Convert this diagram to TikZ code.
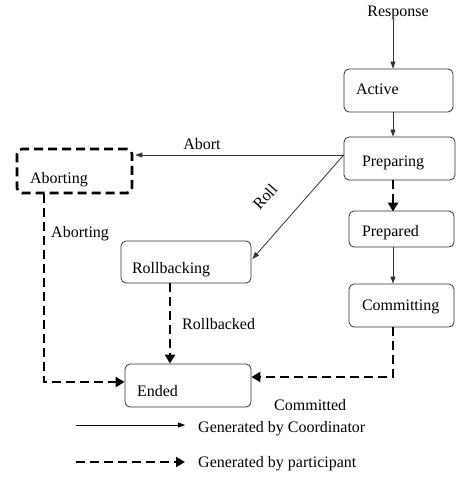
\documentclass[tikz,border=0pt]{standalone}
\usepackage{fontspec}
\setmainfont{Liberation Serif}
\usetikzlibrary{arrows.meta}
\begin{document}
\begin{tikzpicture}[x=1pt,y=-1pt,
  every node/.style={font=\fontsize{16}{19}\selectfont, text=black},
  box/.style={draw=black!80, line width=0.8pt, rounded corners=5pt, inner xsep=0pt, inner ysep=0pt, align=left, text depth=4pt},
  dbox/.style={box, draw=black, line width=2.6pt, dash pattern=on 9pt off 5pt},
  thinarrow/.style={draw=black!80, line width=0.8pt, -{Triangle[length=7pt,width=5pt]}},
  thickarrow/.style={draw=black, line width=2.6pt, dash pattern=on 9pt off 5pt, -{Triangle[length=9pt,width=10pt]}},
  lbl/.style={inner sep=0pt}
]
\useasboundingbox (0,0) rectangle (455,478);
\coordinate (cx) at (393,0);
\coordinate (ay) at (0,155);
\coordinate (ry) at (0,259);
\coordinate (ax) at (44,0);
\coordinate (rx) at (170,0);
\coordinate (ey1) at (0,382);
\coordinate (ey2) at (0,377);

\node[lbl] (resp) at (398,13) {Response};
\node[box, minimum width=109pt, minimum height=43pt, text width=85pt, text height=12pt] (active) at (398.5,90.5) {Active};
\node[box, minimum width=111pt, minimum height=43pt, text width=75pt, text height=21pt] (preparing) at (399.5,158.5) {Preparing};
\node[box, minimum width=105pt, minimum height=36pt, text width=79pt, text height=18pt] (prepared) at (401.5,229) {Prepared};
\node[box, minimum width=105pt, minimum height=43pt, text width=79pt, text height=13pt] (committing) at (401.5,305.5) {Committing};
\node[dbox, minimum width=115pt, minimum height=44pt, text width=89pt, text height=28pt] (aborting) at (74.5,171) {Aborting};
\node[box, minimum width=130pt, minimum height=42pt, text width=108pt, text height=26pt] (rollbacking) at (186,262) {Rollbacking};
\node[box, minimum width=126pt, minimum height=43pt, text width=102pt, text height=25pt] (ended) at (188,385.5) {Ended};

% connectors
\draw[thinarrow] (resp.south -| cx) -- (active.north -| cx);
\draw[thinarrow] (active.south -| cx) -- (preparing.north -| cx);
\draw[thickarrow] (preparing.south -| cx) -- ([yshift=-1pt]prepared.north -| cx);
\draw[thinarrow] (prepared.south -| cx) -- (committing.north -| cx);
\draw[thinarrow] (preparing.west |- ay) -- node[lbl, above=5pt, pos=0.68] (abortlbl) {Abort} ([xshift=2pt]aborting.east |- ay);
\draw[thinarrow] (preparing.west |- ay) -- ([xshift=1pt]rollbacking.east |- ry);
\node[lbl, rotate=48] (rolllbl) at (265,197) {Roll};
\draw[thickarrow] (aborting.south -| ax) |- (ended.west |- ey1);
\draw[thickarrow] (rollbacking.south -| rx) -- (ended.north -| rx);
\draw[thickarrow] (committing.south -| cx) |- (ended.east |- ey2);

\node[lbl, anchor=west] (abortinglbl) at (51,234) {Aborting};
\node[lbl, anchor=west] (rollbackedlbl) at (182,324) {Rollbacked};
\node[lbl, anchor=west] (committedlbl) at (274,405) {Committed};

% legend
\coordinate (l1a) at (76,425);
\coordinate (l1b) at (185,425);
\coordinate (l2a) at (76,462);
\coordinate (l2b) at (185,462);
\draw[line width=0.8pt, -{Triangle[length=7pt,width=5pt]}] (l1a) -- (l1b);
\draw[thickarrow] (l2a) -- (l2b);
\node[lbl, anchor=west] (leg1) at (198,429) {Generated by Coordinator};
\node[lbl, anchor=west] (leg2) at (198,464) {Generated by participant};
\end{tikzpicture}
\end{document}
